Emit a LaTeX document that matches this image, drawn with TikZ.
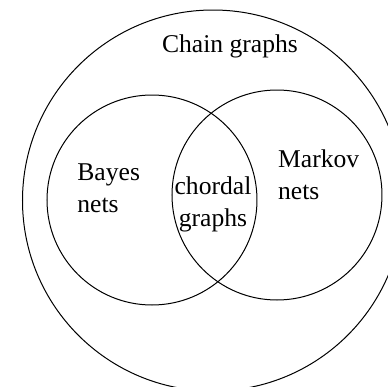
\documentclass[tikz,border=0pt]{standalone}
\usepackage{fontspec}
\setmainfont{Liberation Serif}

\begin{document}
\begin{tikzpicture}
[x=0.5pt,y=-0.5pt,
set/.style ={circle, draw=black, line width=0.5pt, inner sep=0pt},
bigset/.style ={set, minimum size=190.5pt},
smallset/.style ={set, minimum size=105pt},
setlabel/.style ={inner sep=0pt, align=left,
font=\fontsize{12.8}{16}\selectfont}]
\useasboundingbox (0,0) rectangle (388,387);
\clip (0,0) rectangle (388,387);
% the outer set, cut by the page edge
\node [bigset] (chain) at (213,200.5) {};
% the two sets inside it
\node [smallset] (bayes) at (152,200) {};
\node [smallset] (markov) at (277,195) {};
% labels of the sets
\node [setlabel, anchor=base] (chaintext) at (230,52) {Chain graphs};
\node [setlabel] (bayestext) at (108.7,188) {Bayes\\nets};
\node [setlabel] (markovtext) at (318.7,175) {Markov\\nets};
\node [setlabel, align=center] (chordaltext) at (213,204.5) {chordal\\graphs};
\end{tikzpicture}
\end{document}
